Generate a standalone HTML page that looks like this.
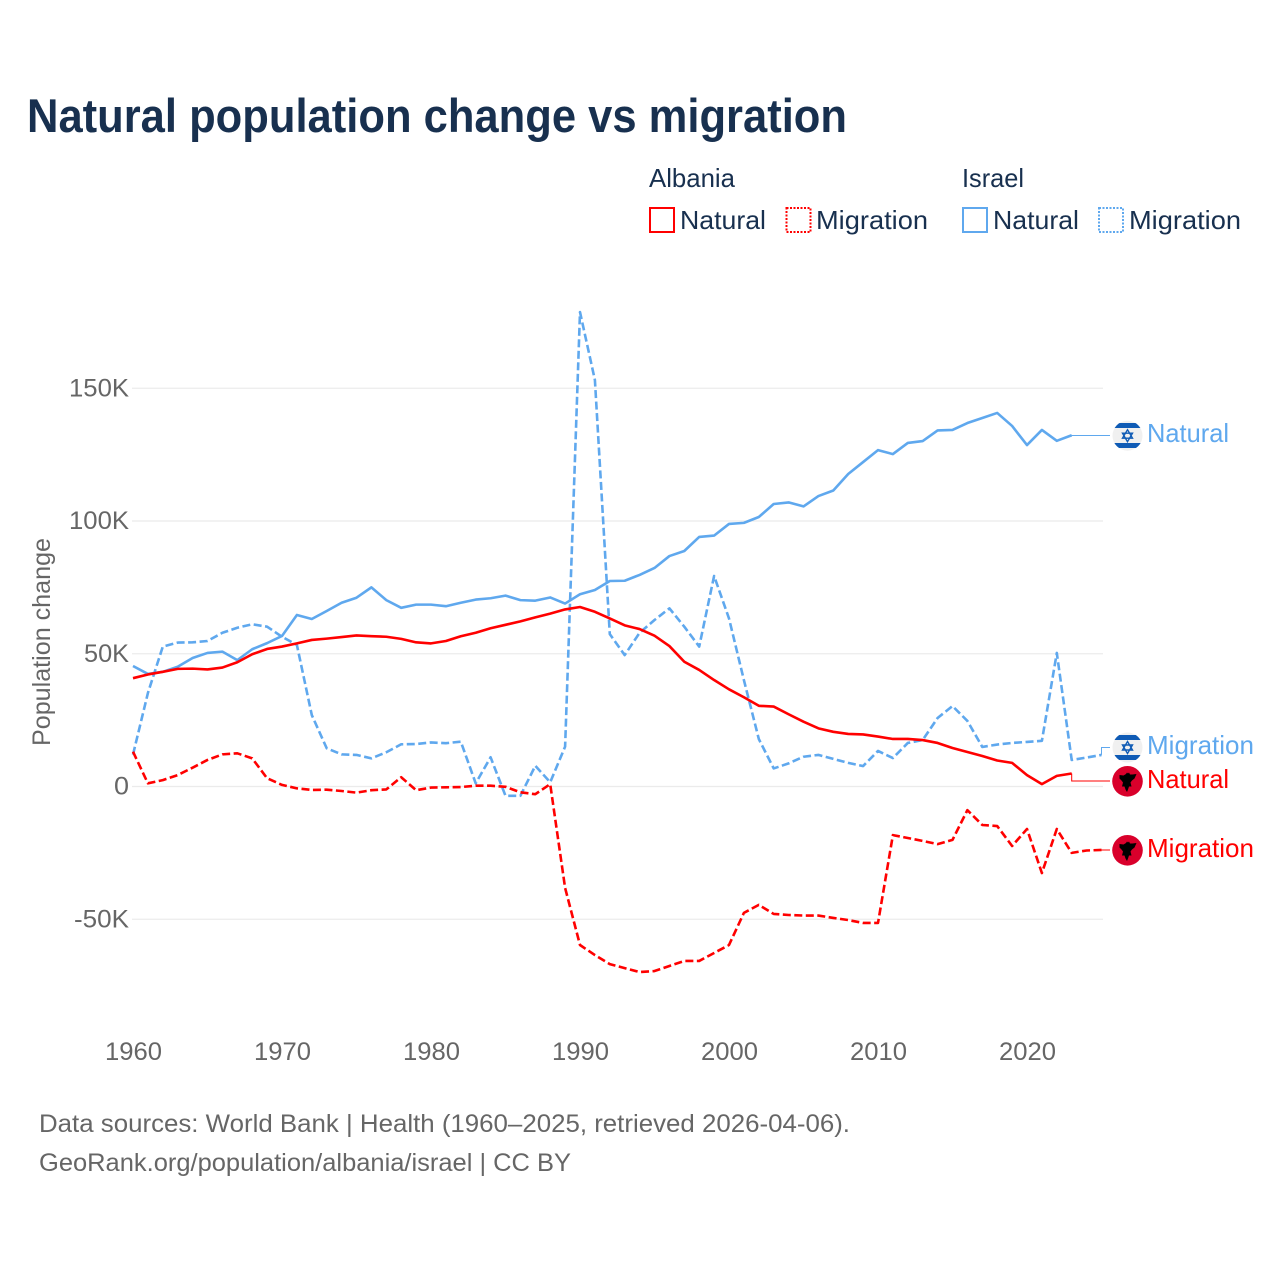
<!DOCTYPE html>
<html lang="en">
<head>
<meta charset="utf-8">
<title>Natural population change vs migration</title>
<style>
html,body{margin:0;padding:0;background:#fff;width:1280px;height:1280px;overflow:hidden}
svg{display:block}
text{font-family:"Liberation Sans",sans-serif}
</style>
</head>
<body>
<svg id="chart" xmlns="http://www.w3.org/2000/svg" width="1280" height="1280" viewBox="0 0 1280 1280">
  <defs>
    <clipPath id="flag-clip-1"><circle cx="1127.5" cy="435.7" r="15"/></clipPath>
    <clipPath id="flag-clip-2"><circle cx="1127.5" cy="747.5" r="15"/></clipPath>
  </defs>
  <rect width="1280" height="1280" fill="#fff"/>
  <text x="27" y="132" font-size="47" font-weight="700" fill="#18304f" textLength="820" lengthAdjust="spacingAndGlyphs">Natural population change vs migration</text>

  <g>
    <text x="649" y="187" font-size="26" fill="#18304f" textLength="86" lengthAdjust="spacingAndGlyphs">Albania</text>
    <text x="962" y="187" font-size="26" fill="#18304f" textLength="62" lengthAdjust="spacingAndGlyphs">Israel</text>
    <g>
      <rect x="650" y="208" width="24" height="24" fill="none" stroke="#ff0000" stroke-width="2"/>
      <text x="680" y="229" font-size="26" fill="#18304f" textLength="86" lengthAdjust="spacingAndGlyphs">Natural</text>
    </g>
    <g>
      <rect x="786.5" y="208" width="24" height="24" fill="none" stroke="#ff0000" stroke-width="2" stroke-dasharray="2 1.5"/>
      <text x="816" y="229" font-size="26" fill="#18304f" textLength="112" lengthAdjust="spacingAndGlyphs">Migration</text>
    </g>
    <g>
      <rect x="963" y="208" width="24" height="24" fill="none" stroke="#5fa8ee" stroke-width="2"/>
      <text x="993" y="229" font-size="26" fill="#18304f" textLength="86" lengthAdjust="spacingAndGlyphs">Natural</text>
    </g>
    <g>
      <rect x="1099" y="208" width="24" height="24" fill="none" stroke="#5fa8ee" stroke-width="2" stroke-dasharray="2 1.5"/>
      <text x="1129" y="229" font-size="26" fill="#18304f" textLength="112" lengthAdjust="spacingAndGlyphs">Migration</text>
    </g>
  </g>

  <g id="grid"></g>
  <g id="y-ticks"></g>
  <g id="x-ticks"></g>
  <text transform="translate(50,642) rotate(-90)" text-anchor="middle" font-size="25" fill="#666" textLength="208" lengthAdjust="spacingAndGlyphs">Population change</text>
  <g id="series"></g>

  <g>
    <g clip-path="url(#flag-clip-1)">
      <rect x="1112" y="420" width="31" height="31" fill="#f0f0f0"/>
      <rect x="1112" y="423" width="31" height="5" fill="#0f5bb5"/>
      <rect x="1112" y="443" width="31" height="5" fill="#0f5bb5"/>
      <path d="M1127.500 429.700l5 8.500h-10zM1127.500 441.700l5-8.500h-10z" fill="none" stroke="#0f5bb5" stroke-width="1.400"/>
    </g>
    <text x="1147" y="442" font-size="26" fill="#5fa8ee" textLength="82" lengthAdjust="spacingAndGlyphs">Natural</text>
  </g>
  <g>
    <g clip-path="url(#flag-clip-2)">
      <rect x="1112" y="732" width="31" height="31" fill="#f0f0f0"/>
      <rect x="1112" y="735" width="31" height="5" fill="#0f5bb5"/>
      <rect x="1112" y="755" width="31" height="5" fill="#0f5bb5"/>
      <path d="M1127.500 741.500l5 8.500h-10zM1127.500 753.500l5-8.500h-10z" fill="none" stroke="#0f5bb5" stroke-width="1.400"/>
    </g>
    <text x="1147" y="754" font-size="26" fill="#5fa8ee" textLength="107" lengthAdjust="spacingAndGlyphs">Migration</text>
  </g>
  <g>
    <g>
      <circle cx="1127.500" cy="781.300" r="15.300" fill="#d9002b"/>
      <path d="M1119.500 775l4 .5 2.500-1.500 1-1.500 1 1 1-1 1 2 2.500 0 4-.5-2 4.500-2.500 2-1.500 2 1 4-2.500 0-1 3-1 2.500-1.500-2.500-1-3-2.500 0 1-4-1.500-2-2-2z" fill="#000"/>
    </g>
    <text x="1147" y="788" font-size="26" fill="#ff0000" textLength="82" lengthAdjust="spacingAndGlyphs">Natural</text>
  </g>
  <g>
    <g>
      <circle cx="1127.500" cy="850.300" r="15.300" fill="#d9002b"/>
      <path d="M1119.500 844l4 .5 2.500-1.500 1-1.500 1 1 1-1 1 2 2.500 0 4-.5-2 4.500-2.500 2-1.500 2 1 4-2.500 0-1 3-1 2.500-1.500-2.500-1-3-2.500 0 1-4-1.500-2-2-2z" fill="#000"/>
    </g>
    <text x="1147" y="857" font-size="26" fill="#ff0000" textLength="107" lengthAdjust="spacingAndGlyphs">Migration</text>
  </g>

  <text x="39" y="1132" font-size="25" fill="#666" textLength="811" lengthAdjust="spacingAndGlyphs">Data sources: World Bank | Health (1960–2025, retrieved 2026-04-06).</text>
  <text x="39" y="1171" font-size="25" fill="#666" textLength="532" lengthAdjust="spacingAndGlyphs">GeoRank.org/population/albania/israel | CC BY</text>
</svg>
<script>
const years = [1960,1961,1962,1963,1964,1965,1966,1967,1968,1969,1970,1971,1972,1973,1974,1975,1976,1977,1978,1979,1980,1981,1982,1983,1984,1985,1986,1987,1988,1989,1990,1991,1992,1993,1994,1995,1996,1997,1998,1999,2000,2001,2002,2003,2004,2005,2006,2007,2008,2009,2010,2011,2012,2013,2014,2015,2016,2017,2018,2019,2020,2021,2022,2023,2024,2025];
const albaniaNatural = [40.8,42.2,43.2,44.3,44.4,44.1,44.8,46.8,49.8,51.8,52.7,53.9,55.2,55.7,56.3,56.9,56.6,56.4,55.6,54.3,53.9,54.8,56.6,57.9,59.6,60.9,62.2,63.7,65.1,66.7,67.6,65.8,63.3,60.7,59.3,56.8,52.9,47,43.9,40.1,36.6,33.6,30.4,30.1,27.2,24.4,21.9,20.6,19.8,19.6,18.8,17.9,17.9,17.5,16.4,14.5,13,11.5,9.8,8.9,4.3,0.9,4,4.9];
const albaniaMigration = [13.1,1.2,2.4,4.3,7.1,10,12.1,12.5,10.6,3.1,0.6,-0.7,-1.3,-1.2,-1.7,-2.3,-1.4,-1.1,3.5,-1.4,-0.4,-0.3,-0.2,0.3,0.3,-0.1,-2.2,-2.9,0.9,-38.2,-59.7,-63.5,-66.9,-68.4,-69.9,-69.5,-67.6,-65.7,-65.7,-62.7,-59.7,-47.6,-44.6,-48,-48.4,-48.6,-48.6,-49.5,-50.3,-51.4,-51.4,-18.3,-19.4,-20.5,-21.7,-20.1,-8.9,-14.5,-14.9,-22.4,-16,-32.6,-16,-25,-24.1,-23.9];
const israelNatural = [45.4,42.4,43.2,45.1,48.4,50.3,50.8,47.6,51.7,54,56.7,64.6,63.1,66.1,69.2,71.1,75,70.2,67.3,68.5,68.5,67.9,69.2,70.4,70.9,71.9,70.2,70,71.2,68.9,72.4,74,77.4,77.5,79.7,82.3,86.8,88.7,94,94.5,98.9,99.3,101.5,106.4,107,105.5,109.4,111.5,117.7,122.2,126.7,125.2,129.4,130.1,134.1,134.3,136.9,138.8,140.7,135.8,128.6,134.3,130.2,132.3];
const israelMigration = [12,35.2,52.7,54.2,54.3,54.8,57.9,59.8,61.1,60.2,56.4,53.3,26.9,14.4,12.1,11.9,10.6,12.9,15.9,16,16.6,16.3,16.9,1.2,11,-3.5,-3.5,7.8,1.6,15,178.7,153.1,57.4,49.5,57.9,62.7,67.1,60.2,52.7,79.3,63.3,40.1,17.9,6.8,8.7,11.2,11.9,10.4,8.9,7.7,13.4,10.7,16.4,17.5,25.8,30.3,24.7,14.9,15.8,16.4,16.8,17.2,50.3,10,10.9,11.9];
const yTickValues = [150,100,50,0,-50];
const yTickLabels = ['150K','100K','50K','0','-50K'];
const xTickValues = [1960,1970,1980,1990,2000,2010,2020];

const SVGNS = 'http://www.w3.org/2000/svg';
function xScale(year){ return 133 + (year - 1960) * 14.9; }
function yScale(v){ return 786.5 - v * 2.655; }
function make(tag, attrs, parent){
  const el = document.createElementNS(SVGNS, tag);
  for (const k in attrs) el.setAttribute(k, attrs[k]);
  parent.appendChild(el);
  return el;
}
const gridG = document.getElementById('grid');
const yG = document.getElementById('y-ticks');
const xG = document.getElementById('x-ticks');
const seriesG = document.getElementById('series');

yTickValues.forEach(function(v, i){
  const line = make('line', {x1:132, x2:1103, y1:yScale(v), y2:yScale(v), stroke:'#ebebeb', 'stroke-width':1.3}, gridG);
  
  
  const t = make('text', {x:129, y:yScale(v)+8, 'text-anchor':'end', 'font-size':25, fill:'#666'}, yG);
  
  
  t.textContent = yTickLabels[i];
  t.setAttribute('textLength', yTickLabels[i].length === 1 ? 15 : yTickLabels[i].length === 3 ? 45 : (yTickLabels[i][0] === '-' ? 55 : 60));
  t.setAttribute('lengthAdjust', 'spacingAndGlyphs');
});
xTickValues.forEach(function(y){
  const t = make('text', {x:xScale(y)+0.5, y:1060, 'text-anchor':'middle', 'font-size':25, fill:'#666', textLength:57, lengthAdjust:'spacingAndGlyphs'}, xG);
  
  
  t.textContent = y;
});

function drawSeries(values, color, dashed, labelY, name){
  const pts = values.map(function(v, i){ return xScale(years[i]).toFixed(2) + ',' + yScale(v).toFixed(2); });
  const attrs = {points:pts.join(' '), fill:'none', stroke:color, 'stroke-width':2.6, 'stroke-linejoin':'round'};
  if (dashed) attrs['stroke-dasharray'] = '8 3.5';
  const line = make('polyline', attrs, seriesG);
  
  
  const lastI = values.length - 1;
  const lx = xScale(years[lastI]);
  const ly = yScale(values[lastI]);
  const midX = Math.min(lx, 1102);
  const conn = make('polyline', {points:lx+','+ly+' '+midX+','+labelY+' 1110,'+labelY, fill:'none', stroke:color, 'stroke-width':1}, seriesG);
  
  
}
drawSeries(israelNatural, '#5fa8ee', false, 435.5, 'line-israel-natural');
drawSeries(israelMigration, '#5fa8ee', true, 747.5, 'line-israel-migration');
drawSeries(albaniaNatural, '#ff0000', false, 781, 'line-albania-natural');
drawSeries(albaniaMigration, '#ff0000', true, 850, 'line-albania-migration');
</script>
</body>
</html>
